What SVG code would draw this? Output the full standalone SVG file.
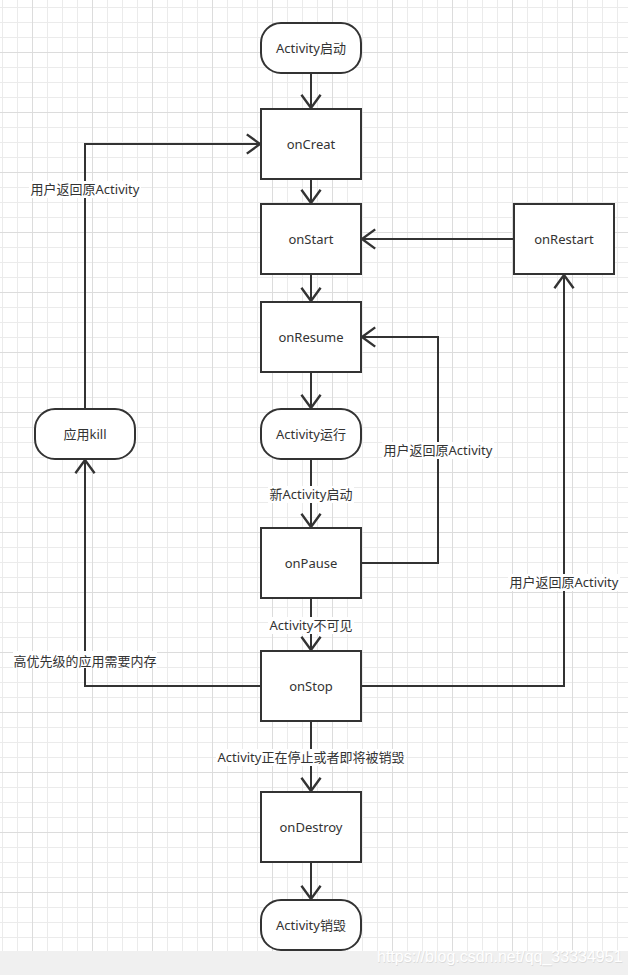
<svg xmlns="http://www.w3.org/2000/svg" width="628" height="975" viewBox="0 0 628 975">
<style>
.box{fill:#fff;stroke:#333;stroke-width:2}
.t{font-family:"Noto Sans","Noto Sans CJK SC",sans-serif;font-size:13px;fill:#333;text-anchor:middle}
.c{fill:none;stroke:#333;stroke-width:2}
.lb{fill:#fff}
</style>
<defs>
<pattern id="grid" patternUnits="userSpaceOnUse" x="32" y="52" width="60" height="60">
<rect width="60" height="60" fill="#fff"/>
<path d="M15.5 0V60M30.5 0V60M45.5 0V60M0 15.5H60M0 30.5H60M0 45.5H60" stroke="#ebebeb" stroke-width="1"/>
<path d="M0.5 0V60M0 0.5H60" stroke="#dcdcdc" stroke-width="1"/>
</pattern>
<marker id="arr" markerUnits="userSpaceOnUse" markerWidth="24" markerHeight="24" refX="0" refY="0" viewBox="-13 -10 15 20" orient="auto" overflow="visible">
<path d="M-11,-8 L0,0 L-11,8" fill="none" stroke="#333" stroke-width="2"/>
</marker>
</defs>
<rect width="628" height="975" fill="url(#grid)"/>
<rect x="0" y="951" width="628" height="24" fill="#f0f0f0"/>

<g id="connectors">
<path class="c" d="M311 73V108" marker-end="url(#arr)"/>
<path class="c" d="M311 179V203" marker-end="url(#arr)"/>
<path class="c" d="M311 274V301" marker-end="url(#arr)"/>
<path class="c" d="M311 372V408" marker-end="url(#arr)"/>
<path class="c" d="M311 459V527" marker-end="url(#arr)"/>
<path class="c" d="M311 598V650" marker-end="url(#arr)"/>
<path class="c" d="M311 721V791" marker-end="url(#arr)"/>
<path class="c" d="M311 862V899" marker-end="url(#arr)"/>
<path class="c" d="M361 563H438V337H362" marker-end="url(#arr)"/>
<path class="c" d="M361 686H564V275" marker-end="url(#arr)"/>
<path class="c" d="M514 239H362" marker-end="url(#arr)"/>
<path class="c" d="M261 686H85V460" marker-end="url(#arr)"/>
<path class="c" d="M85 409V144H260" marker-end="url(#arr)"/>
<g id="labels">
<rect class="lb" x="29" y="181" width="112" height="17"/>
<text class="t" x="85" y="194">用户返回原Activity</text>
<rect class="lb" x="382" y="442" width="112" height="17"/>
<text class="t" x="438" y="455">用户返回原Activity</text>
<rect class="lb" x="508" y="574" width="112" height="17"/>
<text class="t" x="564" y="587">用户返回原Activity</text>
<rect class="lb" x="13" y="651" width="144" height="17"/>
<text class="t" x="85" y="666">高优先级的应用需要内存</text>
<rect class="lb" x="268" y="486" width="86" height="17"/>
<text class="t" x="311" y="499">新Activity启动</text>
<rect class="lb" x="268" y="617" width="86" height="17"/>
<text class="t" x="311" y="630">Activity不可见</text>
<rect class="lb" x="216" y="749" width="190" height="17"/>
<text class="t" x="311" y="762">Activity正在停止或者即将被销毁</text>
</g>
</g>

<g id="start"><rect class="box" x="261" y="23" width="100" height="50" rx="20"/><text class="t" x="311" y="53">Activity启动</text></g>
<g id="onCreat"><rect class="box" x="261" y="109" width="100" height="70"/><text class="t" x="311" y="149">onCreat</text></g>
<g id="onStart"><rect class="box" x="261" y="204" width="100" height="70"/><text class="t" x="311" y="244">onStart</text></g>
<g id="onRestart"><rect class="box" x="514" y="204" width="100" height="70"/><text class="t" x="564" y="244">onRestart</text></g>
<g id="onResume"><rect class="box" x="261" y="302" width="100" height="70"/><text class="t" x="311" y="342">onResume</text></g>
<g id="running"><rect class="box" x="261" y="409" width="100" height="50" rx="20"/><text class="t" x="311" y="439">Activity运行</text></g>
<g id="kill"><rect class="box" x="35" y="409" width="100" height="50" rx="20"/><text class="t" x="85" y="439">应用kill</text></g>
<g id="onPause"><rect class="box" x="261" y="528" width="100" height="70"/><text class="t" x="311" y="568">onPause</text></g>
<g id="onStop"><rect class="box" x="261" y="651" width="100" height="70"/><text class="t" x="311" y="691">onStop</text></g>
<g id="onDestroy"><rect class="box" x="261" y="792" width="100" height="70"/><text class="t" x="311" y="832">onDestroy</text></g>
<g id="destroyed"><rect class="box" x="261" y="900" width="100" height="50" rx="20"/><text class="t" x="311" y="930">Activity销毁</text></g>

<g id="watermark" font-family="'Liberation Sans',Arial,sans-serif" font-size="16">
<text x="377.5" y="962.5" fill="#dadada">https://blog.csdn.net/qq_33334951</text>
<text x="377" y="962" fill="#ffffff">https://blog.csdn.net/qq_33334951</text>
</g>
</svg>
